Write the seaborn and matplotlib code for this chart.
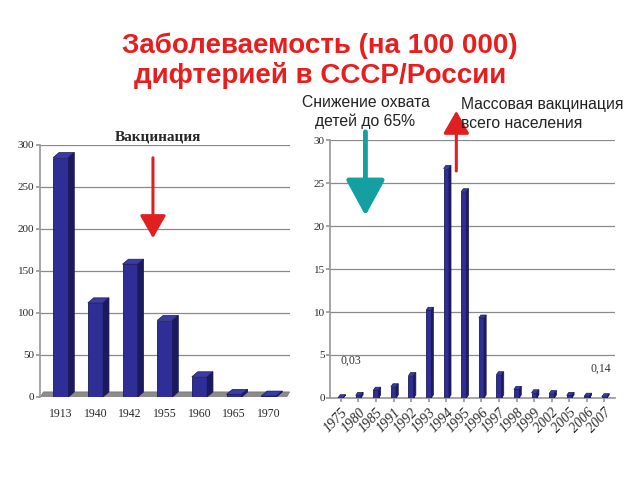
import matplotlib
matplotlib.use("Agg")
import matplotlib.pyplot as plt
import seaborn as sns
import pandas as pd
from matplotlib.patches import Polygon, FancyArrowPatch

# ---- data ----
years_ussr = ["1913", "1940", "1942", "1955", "1960", "1965", "1970"]
rate_ussr = [285, 112, 158, 91, 24, 3, 1]

years_russia = ["1975", "1980", "1985", "1991", "1992", "1993", "1994", "1995",
                "1996", "1997", "1998", "1999", "2002", "2005", "2006", "2007"]
rate_russia = [0.03, 0.3, 0.9, 1.3, 2.6, 10.2, 26.7, 24.0,
               9.3, 2.7, 1.0, 0.6, 0.5, 0.3, 0.2, 0.14]

left_ticks = [0, 50, 100, 150, 200, 250, 300]
right_ticks = [0, 5, 10, 15, 20, 25, 30]

title = "Заболеваемость (на 100 000)\nдифтерией в СССР/России"

sns.set_theme(style="white")
plt.rcParams['font.family'] = ['Liberation Sans', 'DejaVu Sans']

BAR = "#2E2E96"
TOP = "#3A3AA8"
SIDE = "#1A1A5C"

fig = plt.figure(figsize=(6.4, 4.8), dpi=100)
fig.patch.set_facecolor("white")

ax1 = fig.add_axes([0.0625, 0.173, 0.39, 0.525])
ax2 = fig.add_axes([0.516, 0.171, 0.445, 0.537])

df1 = pd.DataFrame({"year": years_ussr, "rate": rate_ussr})
df2 = pd.DataFrame({"year": years_russia, "rate": rate_russia})

sns.barplot(data=df1, x="year", y="rate", ax=ax1, color=BAR, width=0.44,
            saturation=1, edgecolor=SIDE, linewidth=0.6, zorder=3)
sns.barplot(data=df2, x="year", y="rate", ax=ax2, color=BAR, width=0.3,
            saturation=1, edgecolor=SIDE, linewidth=0.6, zorder=3)


def add_depth(ax, dx, dy):
    for p in list(ax.patches):
        x, w, h = p.get_x(), p.get_width(), p.get_height()
        top = Polygon([(x, h), (x + dx, h + dy), (x + w + dx, h + dy), (x + w, h)],
                      closed=True, facecolor=TOP, edgecolor=SIDE, lw=0.5, zorder=3)
        side = Polygon([(x + w, 0), (x + w + dx, dy), (x + w + dx, h + dy), (x + w, h)],
                       closed=True, facecolor=SIDE, edgecolor=SIDE, lw=0.5, zorder=3)
        ax.add_patch(top)
        ax.add_patch(side)


add_depth(ax1, 0.17, 6)
add_depth(ax2, 0.12, 0.35)

# floor on left chart
n1 = len(years_ussr)
ax1.add_patch(Polygon([(-0.6, -1), (n1 - 0.5, -1), (n1 - 0.4, 6), (-0.5, 6)],
                      closed=True, facecolor="#8C8C8C", edgecolor="#707070",
                      lw=0.5, zorder=2))

ax1.set_ylim(0, 300)
ax1.set_xlim(-0.6, n1 - 0.4)
ax1.set_yticks(left_ticks)
ax2.set_ylim(0, 30)
ax2.set_xlim(-0.6, len(years_russia) - 0.4)
ax2.set_yticks(right_ticks)

for ax in (ax1, ax2):
    ax.set_xlabel("")
    ax.set_ylabel("")
    ax.yaxis.grid(True, color="#8A8A8A", lw=0.9, zorder=0)
    ax.set_axisbelow(True)
    for s in ["top", "right"]:
        ax.spines[s].set_visible(False)
    ax.spines["left"].set_color("#9A9A9A")
    ax.spines["bottom"].set_color("#9A9A9A")
    ax.tick_params(axis="y", length=3, color="#9A9A9A", pad=1, left=True)
    for t in ax.get_yticklabels():
        t.set_fontfamily("Liberation Serif")
        t.set_fontsize(8)

ax1.spines["bottom"].set_visible(False)
ax1.tick_params(axis="x", length=0, pad=8)
for t in ax1.get_xticklabels():
    t.set_fontfamily("Liberation Serif")
    t.set_fontsize(8.5)

ax2.tick_params(axis="x", length=3, bottom=True, color="#9A9A9A", pad=3)
ax2.set_xticks(range(len(years_russia)))
ax2.set_xticklabels(years_russia, rotation=46, ha="right", rotation_mode="anchor",
                    fontfamily="Liberation Serif", fontstyle="italic", fontsize=10)

ax2.text(0.55, 4.0, "0,03", fontsize=8.5, fontfamily="Liberation Serif",
         color="#333333", ha="center")
ax2.text(len(years_russia) - 1.2, 3.0, "0,14", fontsize=8.5,
         fontfamily="Liberation Serif", color="#333333", ha="center")

# title
fig.text(0.5, 0.873, title, ha="center", va="center", color="#E81E1E",
         fontsize=20, fontweight="bold", linespacing=1.12)

# annotations
fig.text(0.247, 0.714, "Вакцинация", ha="center", va="center",
         fontfamily="Liberation Serif", fontweight="bold", fontsize=11)
fig.text(0.571, 0.766, "Снижение охвата\nдетей до 65%", ha="center", va="center",
         fontsize=11.3, color="#222222", linespacing=1.3)
fig.text(0.721, 0.762, "Массовая вакцинация\nвсего населения", ha="left", va="center",
         fontsize=11.3, color="#222222", linespacing=1.3)

arrows = [
    ((0.239, 0.677), (0.239, 0.498), "#E02020", 2.2, 14, 8),
    ((0.571, 0.731), (0.571, 0.545), "#14A0A0", 3.5, 22, 12),
    ((0.713, 0.638), (0.713, 0.775), "#E02020", 2.2, 14, 8),
]
for (x0, y0), (x1, y1), c, lw, hl, hw in arrows:
    fig.add_artist(FancyArrowPatch((x0, y0), (x1, y1), transform=fig.transFigure,
                                   arrowstyle=f"-|>,head_length={hl/10},head_width={hw/10}",
                                   mutation_scale=10, color=c, lw=lw))

fig.savefig("out.png", dpi=100)
